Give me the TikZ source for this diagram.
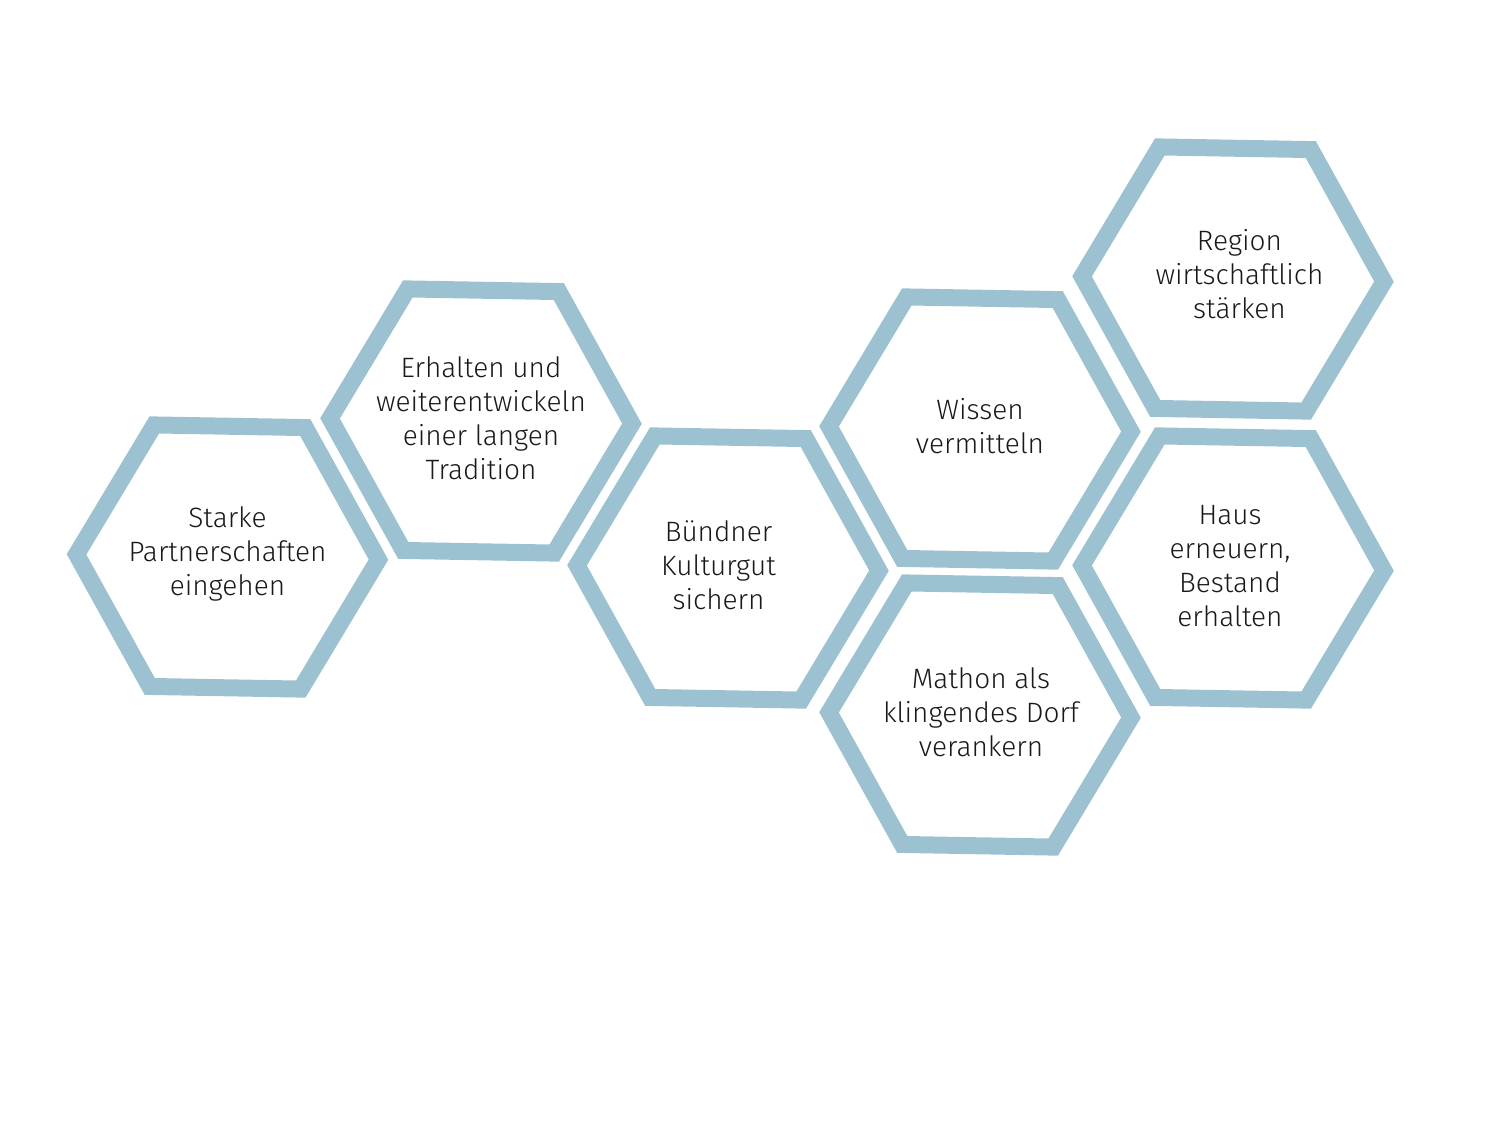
\documentclass[tikz,border=0pt]{standalone}
\usepackage{fontspec}
\setmainfont{Fira Sans Light}
\definecolor{hexblue}{RGB}{156,194,210}
\definecolor{txtgray}{RGB}{25,25,25}
\tikzset{
  hexline/.style={draw=hexblue, line width=8.5pt, line join=miter},
  hextext/.style={align=center, text=txtgray, font=\fontsize{14}{17}\selectfont, inner sep=0pt},
}
\newcommand{\hexagon}[1]{%
  \draw[hexline, shift={(#1)}, rotate=-1] (0:151) -- (60:151) -- (120:151) -- (180:151) -- (240:151) -- (300:151) -- cycle;}
\begin{document}
\begin{tikzpicture}[x=0.5pt, y=-0.5pt]
  \useasboundingbox (0,0) rectangle (1508,1131);
  \coordinate (c1) at (227.5,557);
  \coordinate (c2) at (481,421);
  \coordinate (c3) at (728,568);
  \coordinate (c4) at (980,429);
  \coordinate (c5) at (1233,279);
  \coordinate (c6) at (1233,568);
  \coordinate (c7) at (980,715);
  \node[hextext] (h1) at (227.5,554) {Starke\\Partnerschaften\\eingehen};
  \node[hextext] (h2) at (481,418) {Erhalten und\\weiterentwickeln\\einer langen\\Tradition};
  \node[hextext] (h3) at (718.5,565) {Bündner\\Kulturgut\\sichern};
  \node[hextext] (h4) at (980,426) {Wissen\\vermitteln};
  \node[hextext] (h5) at (1239.5,274) {Region\\wirtschaftlich\\stärken};
  \node[hextext] (h6) at (1230,566) {Haus\\erneuern,\\Bestand\\erhalten};
  \node[hextext] (h7) at (981,712) {Mathon als\\klingendes Dorf\\verankern};
  \hexagon{c1}
  \hexagon{c2}
  \hexagon{c3}
  \hexagon{c4}
  \hexagon{c5}
  \hexagon{c6}
  \hexagon{c7}
\end{tikzpicture}
\end{document}
